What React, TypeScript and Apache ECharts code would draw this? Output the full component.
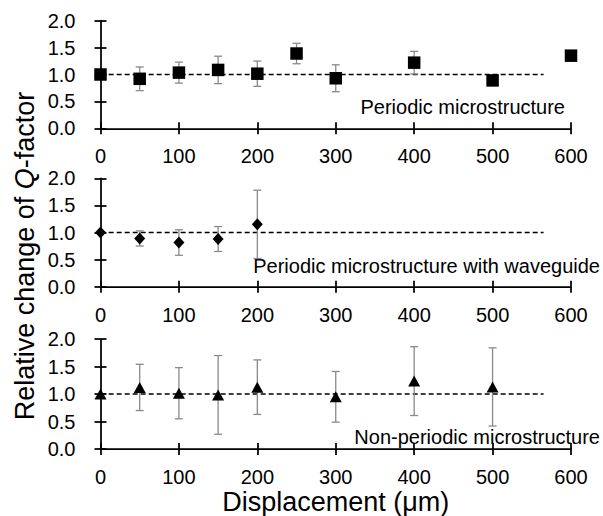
import React, { useEffect, useRef } from "react";
import * as echarts from "echarts";

// ---------- data ----------
const xTicks = [0, 100, 200, 300, 400, 500, 600];
const yTicks = [0, 0.5, 1.0, 1.5, 2.0];

const p1X = [0, 50, 100, 150, 200, 250, 300, 400, 500, 600];
const p1Y = [1.0, 0.92, 1.035, 1.085, 1.015, 1.39, 0.93, 1.22, 0.89, 1.35];
const p1Err = [0, 0.22, 0.195, 0.255, 0.235, 0.19, 0.25, 0.21, 0, 0];

const p2X = [0, 50, 100, 150, 200];
const p2Y = [1.0, 0.89, 0.815, 0.88, 1.15];
const p2Err = [0, 0.14, 0.235, 0.23, 0.63];

const p3X = [0, 50, 100, 150, 200, 300, 400, 500];
const p3Y = [1.0, 1.12, 1.015, 0.985, 1.125, 0.95, 1.235, 1.13];
const p3Err = [0, 0.42, 0.465, 0.715, 0.495, 0.46, 0.625, 0.71];

const refLineX = [-10, 565];
const refLineY = 1.0;

const panelLabels = [
  "Periodic microstructure",
  "Periodic microstructure with waveguide",
  "Non-periodic microstructure",
];
const xTitle = "Displacement (μm)";
const yTitle = "Relative change of {q|Q}-factor";

// ---------- layout / style ----------
const FONT = '"Liberation Sans", Arial, sans-serif';
const grids = [
  { left: 100.5, top: 20.7, width: 470.5, height: 107.6 },
  { left: 100.5, top: 178.3, width: 470.5, height: 108.4 },
  { left: 100.5, top: 339, width: 470.5, height: 113.7 },
];
const symbols = [
  { symbol: "rect", size: 12.5 },
  { symbol: "diamond", size: [11, 12] },
  { symbol: "triangle", size: [12, 11] },
];
const labelPos = [
  { x: 565, y: 107 },
  { x: 600, y: 266 },
  { x: 600, y: 437 },
];

export default function App() {
  const ref = useRef<HTMLDivElement>(null);
  useEffect(() => {
    document.body.style.margin = "0";
    const chart = echarts.init(ref.current!, null, { renderer: "svg" });
    const panels = [
      { x: p1X, y: p1Y, e: p1Err },
      { x: p2X, y: p2Y, e: p2Err },
      { x: p3X, y: p3Y, e: p3Err },
    ];
    const tickStyle = { color: "#000", width: 1.75 };
    const xAxes: any[] = [];
    const yAxes: any[] = [];
    const series: any[] = [];
    panels.forEach((p, i) => {
      const baseX = {
        type: "value",
        gridIndex: i,
        min: xTicks[0],
        max: xTicks[xTicks.length - 1],
        interval: 100,
        position: "bottom",
        splitLine: { show: false },
      };
      xAxes.push({
        ...baseX,
        axisLine: { show: true, lineStyle: { color: "#000", width: 1.75 } },
        axisTick: { show: true, inside: false, length: 6, lineStyle: tickStyle },
        axisLabel: { show: true, margin: 18, fontSize: 20, color: "#000", fontFamily: FONT },
        ...(i === 2
          ? {
              name: xTitle,
              nameLocation: "middle",
              nameGap: 38,
              nameTextStyle: { fontSize: 27, color: "#000", fontFamily: FONT },
            }
          : {}),
      });
      xAxes.push({
        ...baseX,
        axisLine: { show: false },
        axisTick: { show: true, inside: true, length: 6, lineStyle: tickStyle },
        axisLabel: { show: false },
      });
      const baseY = {
        type: "value",
        gridIndex: i,
        min: yTicks[0],
        max: yTicks[yTicks.length - 1],
        interval: 0.5,
        position: "left",
        splitLine: { show: false },
      };
      yAxes.push({
        ...baseY,
        axisLine: { show: true, lineStyle: { color: "#000", width: 1.75 } },
        axisTick: { show: true, inside: false, length: 6, lineStyle: tickStyle },
        axisLabel: {
          show: true,
          margin: 25,
          fontSize: 20,
          color: "#000",
          fontFamily: FONT,
          formatter: (v: number) => v.toFixed(1),
        },
      });
      yAxes.push({
        ...baseY,
        axisLine: { show: false },
        axisTick: { show: true, inside: true, length: 6, lineStyle: tickStyle },
        axisLabel: { show: false },
      });
      const xi = i * 2;
      const yi = i * 2;
      series.push({
        type: "line",
        xAxisIndex: xi,
        yAxisIndex: yi,
        data: refLineX.map((x) => [x, refLineY]),
        symbol: "none",
        clip: false,
        lineStyle: { color: "#000", width: 1.5, type: [5, 3] },
        z: 1,
      });
      series.push({
        type: "custom",
        xAxisIndex: xi,
        yAxisIndex: yi,
        z: 2,
        data: p.x
          .map((x, k) => [x, p.y[k] - p.e[k], p.y[k] + p.e[k], p.e[k]])
          .filter((d) => d[3] > 0),
        encode: { x: 0, y: [1, 2] },
        renderItem: (params: any, api: any) => {
          const x = api.value(0);
          const hi = api.coord([x, api.value(2)]);
          const lo = api.coord([x, api.value(1)]);
          const cap = 4;
          const style = { stroke: "#8a8a8a", lineWidth: 1.3 };
          return {
            type: "group",
            children: [
              { type: "line", shape: { x1: hi[0], y1: hi[1], x2: lo[0], y2: lo[1] }, style },
              { type: "line", shape: { x1: hi[0] - cap, y1: hi[1], x2: hi[0] + cap, y2: hi[1] }, style },
              { type: "line", shape: { x1: lo[0] - cap, y1: lo[1], x2: lo[0] + cap, y2: lo[1] }, style },
            ],
          };
        },
      });
      series.push({
        type: "scatter",
        xAxisIndex: xi,
        yAxisIndex: yi,
        z: 3,
        symbol: symbols[i].symbol,
        symbolSize: symbols[i].size,
        itemStyle: { color: "#000", opacity: 1 },
        data: p.x.map((x, k) => [x, p.y[k]]),
      });
    });

    const graphic: any[] = panelLabels.map((t, i) => ({
      type: "text",
      x: labelPos[i].x,
      y: labelPos[i].y,
      style: {
        text: t,
        fontSize: 20,
        fontFamily: FONT,
        fill: "#000",
        textAlign: "right",
        textVerticalAlign: "middle",
      },
    }));
    graphic.push({
      type: "text",
      x: 25,
      y: 256,
      rotation: Math.PI / 2,
      style: {
        text: yTitle,
        fontSize: 27,
        fontFamily: FONT,
        fill: "#000",
        textAlign: "center",
        textVerticalAlign: "middle",
        rich: {
          q: { fontSize: 27, fontStyle: "italic", fontFamily: FONT, fill: "#000" },
        },
      },
    });

    chart.setOption({
      animation: false,
      backgroundColor: "#fff",
      grid: grids,
      xAxis: xAxes,
      yAxis: yAxes,
      series,
      graphic,
    });
    return () => chart.dispose();
  }, []);
  return <div ref={ref} style={{ width: 603, height: 516 }} />;
}
